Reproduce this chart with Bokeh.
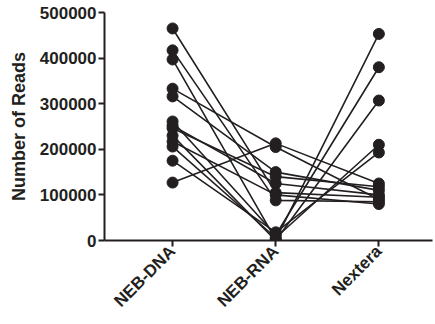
from bokeh.plotting import figure
from bokeh.models import FixedTicker, BasicTickFormatter, Range1d
from bokeh.embed import file_html
from bokeh.resources import INLINE
import math

categories = ["NEB-DNA", "NEB-RNA", "Nextera"]
neb_dna = [465000, 417000, 397000, 333000, 316000, 261000, 252000, 246000, 230000, 217000, 206000, 175000, 127000]
neb_rna = [105000, 88000, 2000, 205000, 150000, 12000, 125000, 140000, 0, 100000, 6000, 18000, 213000]
nextera = [95000, 85000, 453000, 90000, 110000, 380000, 100000, 118000, 307000, 80000, 210000, 193000, 125000]
y_ticks = [0, 100000, 200000, 300000, 400000, 500000]

ink = "#231f20"

p = figure(width=435, height=324, output_backend="svg", toolbar_location=None,
           x_range=Range1d(-0.66, 2.52), y_range=Range1d(0, 500000),
           min_border_left=104, min_border_top=12, min_border_bottom=84, min_border_right=3)
p.outline_line_color = None
p.xgrid.visible = False
p.ygrid.visible = False

xs_all = [[0, 1, 2] for _ in neb_dna]
ys_all = [[a, b, c] for a, b, c in zip(neb_dna, neb_rna, nextera)]
p.multi_line(xs_all, ys_all, line_color=ink, line_width=1.6)

px, py = [], []
for i, series in enumerate([neb_dna, neb_rna, nextera]):
    px += [i] * len(series)
    py += series
p.scatter(px, py, size=11, color=ink)

font = "Liberation Sans"
p.xaxis.ticker = FixedTicker(ticks=[0, 1, 2])
p.xaxis.major_label_overrides = {i: c for i, c in enumerate(categories)}
p.xaxis.major_label_orientation = math.pi / 4
p.yaxis.ticker = FixedTicker(ticks=y_ticks)
p.yaxis.formatter = BasicTickFormatter(use_scientific=False)
p.yaxis.axis_label = "Number of Reads"

for ax in (p.xaxis, p.yaxis):
    ax.axis_line_width = 2
    ax.axis_line_color = ink
    ax.major_tick_line_width = 2
    ax.major_tick_line_color = ink
    ax.major_tick_out = 6
    ax.major_tick_in = 0
    ax.minor_tick_line_color = None
    ax.major_label_text_font = font
    ax.major_label_text_font_style = "bold"
    ax.major_label_text_font_size = "17px"
    ax.major_label_text_color = ink
    ax.axis_label_text_font = font
    ax.axis_label_text_font_style = "bold"
    ax.axis_label_text_font_size = "18px"
    ax.axis_label_text_color = ink
p.yaxis.major_label_standoff = 2
p.yaxis.axis_label_standoff = 8
p.xaxis.major_label_standoff = 2

open("out.html", "w").write(file_html(p, INLINE))
